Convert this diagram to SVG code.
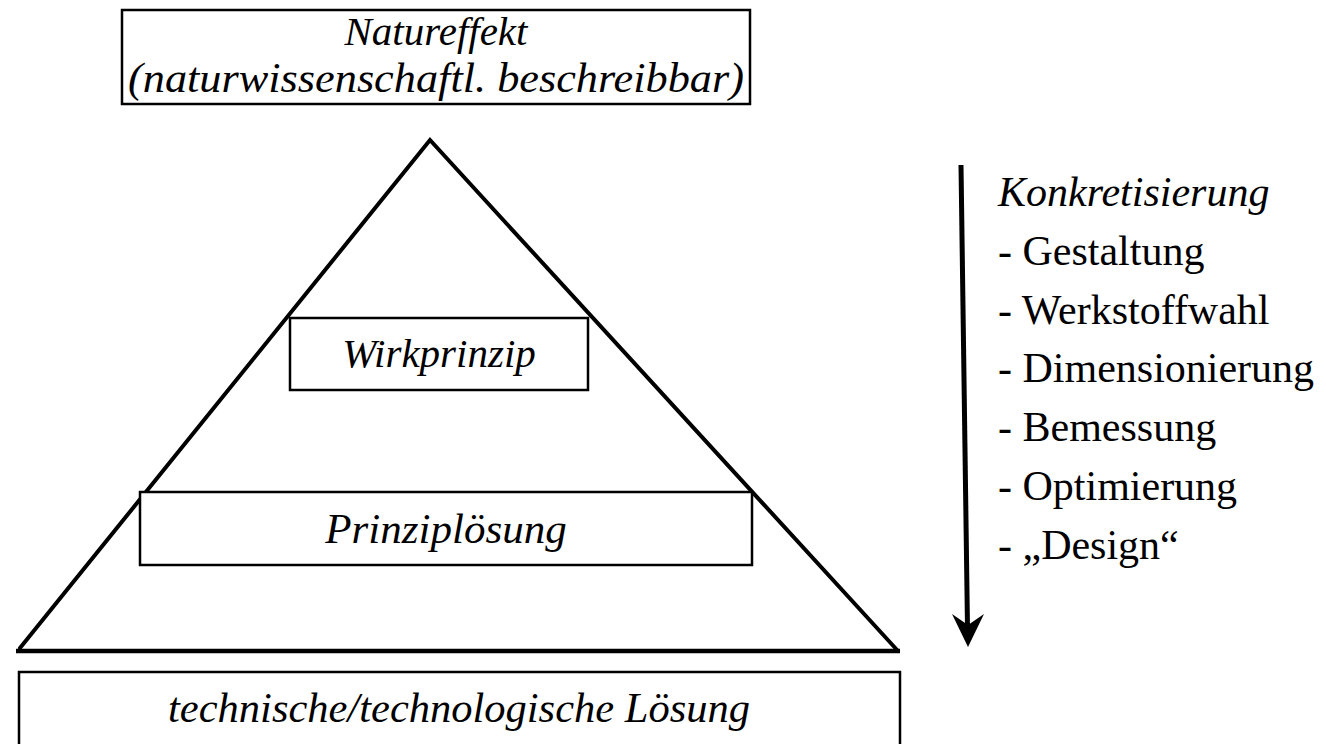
<svg xmlns="http://www.w3.org/2000/svg" width="1326" height="744" viewBox="0 0 1326 744">
  <defs>
    <style>
      .box { fill: #fff; stroke: #000; stroke-width: 2.5; }
      .edge { fill: none; stroke: #000; stroke-width: 4; stroke-linecap: round; stroke-linejoin: miter; }
      .lbl { font-size: 41px; font-style: italic; fill: #000; text-anchor: middle; }
      .list { font-size: 42px; fill: #000; }
    </style>
  </defs>
  <rect width="1326" height="744" fill="#fff"/>

  <!-- pyramid outline -->
  <g id="pyramid">
    <polyline class="edge" points="20,648 430,140 898,651"/>
    <line x1="16" y1="651" x2="900" y2="651" stroke="#000" stroke-width="4.5"/>
  </g>

  <g font-family="Liberation Serif, Times New Roman, serif">
    <g id="natureffekt">
      <rect class="box" x="122" y="10" width="628" height="94"/>
      <text class="lbl" x="436" y="45">Natureffekt</text>
      <text class="lbl" x="436" y="92" style="font-size:42px" textLength="616" lengthAdjust="spacingAndGlyphs">(naturwissenschaftl. beschreibbar)</text>
    </g>

    <g id="wirkprinzip">
      <rect class="box" x="290" y="318" width="298" height="72"/>
      <text class="lbl" x="439" y="367">Wirkprinzip</text>
    </g>

    <g id="prinziploesung">
      <rect class="box" x="140" y="492" width="612" height="73"/>
      <text class="lbl" x="446" y="543" style="font-size:43px">Prinziplösung</text>
    </g>

    <g id="loesung">
      <rect class="box" x="19" y="672" width="881" height="90"/>
      <text class="lbl" x="459" y="722" style="font-size:42.5px">technische/technologische Lösung</text>
    </g>

    <g id="konkretisierung">
      <text class="list" x="998" y="206" font-style="italic">Konkretisierung</text>
      <text class="list" x="998" y="265">- Gestaltung</text>
      <text class="list" x="998" y="324">- Werkstoffwahl</text>
      <text class="list" x="998" y="382">- Dimensionierung</text>
      <text class="list" x="998" y="441">- Bemessung</text>
      <text class="list" x="998" y="500">- Optimierung</text>
      <text class="list" x="998" y="559">- „Design“</text>
    </g>
  </g>

  <!-- concretisation arrow -->
  <g id="connectors">
    <line x1="961" y1="165" x2="967.5" y2="628" stroke="#000" stroke-width="5"/>
    <polygon points="952,614 968,625 984,614 968,647" fill="#000"/>
  </g>
</svg>
